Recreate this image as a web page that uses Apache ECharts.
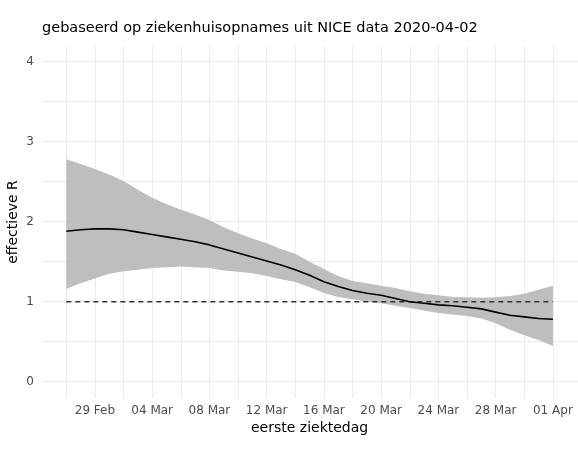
<!DOCTYPE html>
<html>
<head>
<meta charset="utf-8">
<script src="https://cdn.jsdelivr.net/npm/echarts@6/dist/echarts.min.js"></script>
<style>
html,body{margin:0;padding:0;background:#fff;}
#chart{width:578px;height:462px;}
</style>
</head>
<body>
<div id="chart"></div>
<script>
// Dates (eerste ziektedag), 27 Feb .. 01 Apr 2020
const dates = ['27 Feb','28 Feb','29 Feb','01 Mar','02 Mar','03 Mar','04 Mar','05 Mar','06 Mar','07 Mar',
  '08 Mar','09 Mar','10 Mar','11 Mar','12 Mar','13 Mar','14 Mar','15 Mar','16 Mar','17 Mar',
  '18 Mar','19 Mar','20 Mar','21 Mar','22 Mar','23 Mar','24 Mar','25 Mar','26 Mar','27 Mar',
  '28 Mar','29 Mar','30 Mar','31 Mar','01 Apr'];
// effective R (median)
const rMedian = [1.88,1.90,1.91,1.91,1.90,1.87,1.84,1.81,1.78,1.75,
  1.71,1.66,1.61,1.56,1.51,1.46,1.40,1.33,1.25,1.19,
  1.14,1.105,1.08,1.04,1.00,0.98,0.96,0.95,0.93,0.91,
  0.87,0.83,0.81,0.79,0.78];
// upper bound of interval
const rUpper = [2.78,2.72,2.66,2.59,2.51,2.40,2.30,2.22,2.15,2.09,
  2.02,1.93,1.855,1.79,1.73,1.66,1.60,1.50,1.41,1.32,
  1.26,1.23,1.20,1.17,1.13,1.10,1.08,1.06,1.055,1.05,
  1.055,1.07,1.10,1.15,1.20];
// lower bound of interval
const rLower = [1.16,1.23,1.29,1.35,1.38,1.40,1.42,1.43,1.44,1.43,
  1.42,1.39,1.375,1.355,1.32,1.28,1.245,1.18,1.11,1.06,
  1.03,1.00,0.98,0.95,0.92,0.89,0.86,0.84,0.82,0.79,
  0.73,0.65,0.58,0.52,0.445];
// reference line R = 1
const refLevel = 1;
const yTicks = [0,1,2,3,4];

const FONT = 'DejaVu Sans';
const chart = echarts.init(document.getElementById('chart'), null, {renderer:'canvas'});
const band = rUpper.map((u,i)=> +(u - rLower[i]).toFixed(4));
const refLine = dates.map(()=>refLevel);

chart.setOption({
  animation:false,
  backgroundColor:'#ffffff',
  title:{
    text:'gebaseerd op ziekenhuisopnames uit NICE data 2020-04-02',
    left:42, top:21, padding:0,
    textStyle:{fontFamily:FONT,fontSize:14.5,fontWeight:'normal',color:'#000'}
  },
  grid:[
    {left:42,right:0,top:61.7,bottom:80.3,containLabel:false},
    {left:66.3,right:25.1,top:45.7,bottom:64.3,containLabel:false}
  ],
  xAxis:[
    {gridIndex:0,type:'value',min:0,max:1,show:false},
    {gridIndex:1,type:'category',data:dates,boundaryGap:false,
     axisLine:{show:false},axisTick:{show:false},
     axisLabel:{interval:(i)=>((i-2)%4===0),margin:7,color:'#4d4d4d',fontFamily:FONT,fontSize:12},
     splitLine:{show:true,interval:(i)=>(i%2===0),lineStyle:{color:'#ebebeb',width:1}},
     name:'eerste ziektedag',nameLocation:'middle',nameGap:23,
     nameTextStyle:{fontFamily:FONT,fontSize:14,color:'#000'}}
  ],
  yAxis:[
    {gridIndex:0,type:'value',min:0,max:4,interval:0.5,
     axisLine:{show:false},axisTick:{show:false},
     axisLabel:{margin:8,color:'#4d4d4d',fontFamily:FONT,fontSize:12,
       formatter:(v)=> yTicks.includes(v) ? String(v) : ''},
     splitLine:{show:true,lineStyle:{color:'#ebebeb',width:1}}},
    {gridIndex:1,type:'value',min:-0.2,max:4.2,show:false,splitLine:{show:false}}
  ],
  graphic:[
    {type:'text',x:13,y:222,rotation:Math.PI/2,
     style:{text:'effectieve R',fontFamily:FONT,fontSize:14,fill:'#000',align:'center',verticalAlign:'middle'}}
  ],
  series:[
    {name:'lower',type:'line',xAxisIndex:1,yAxisIndex:1,data:rLower,stack:'ci',
     symbol:'none',lineStyle:{opacity:0,width:0},silent:true},
    {name:'band',type:'line',xAxisIndex:1,yAxisIndex:1,data:band,stack:'ci',
     symbol:'none',lineStyle:{opacity:0,width:0},areaStyle:{color:'#bebebe',opacity:1},silent:true},
    {name:'ref',type:'line',xAxisIndex:1,yAxisIndex:1,data:refLine,symbol:'none',
     lineStyle:{color:'#333333',width:1.6,type:[5,4]},z:4},
    {name:'R',type:'line',xAxisIndex:1,yAxisIndex:1,data:rMedian,symbol:'none',
     lineStyle:{color:'#000',width:1.6},z:5}
  ]
});
</script>
</body>
</html>
